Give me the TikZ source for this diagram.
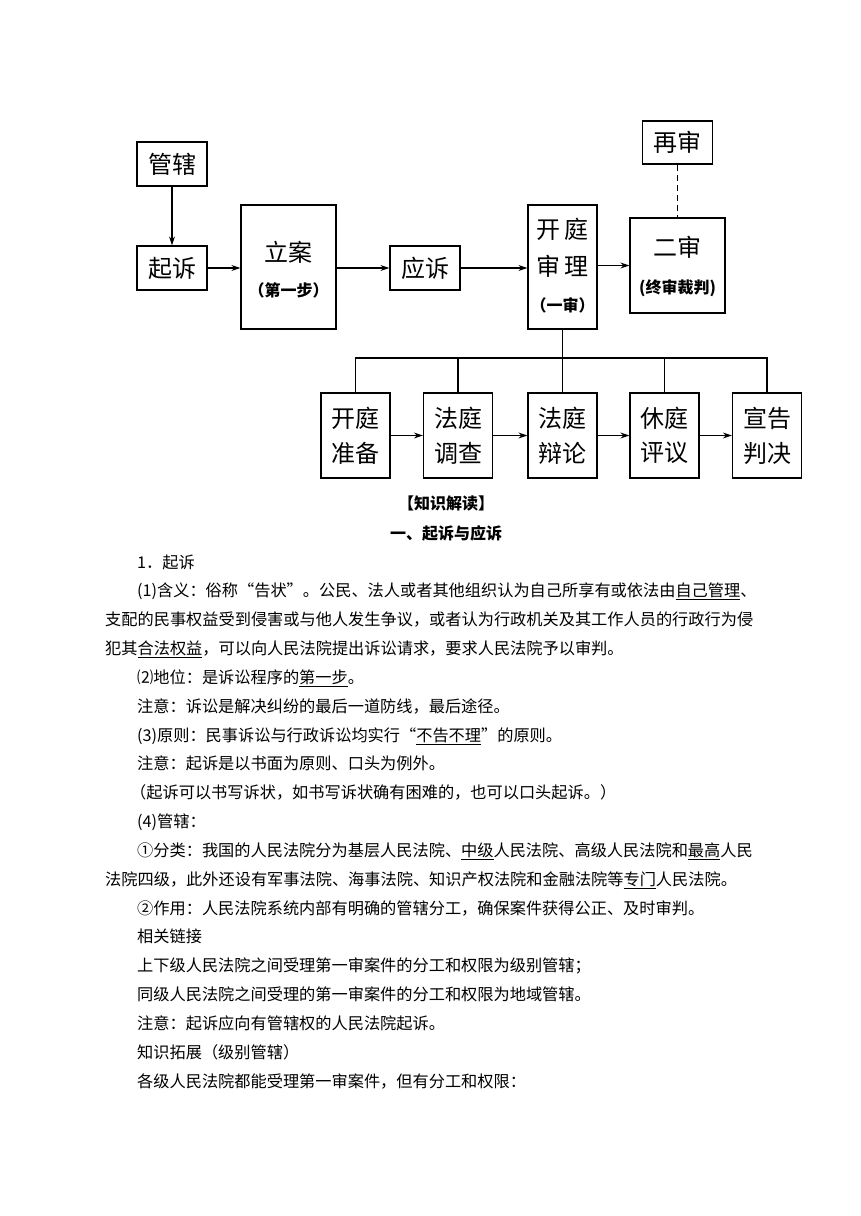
\documentclass[tikz,border=0pt]{standalone}
\usepackage{fontspec}
\setmainfont{Noto Sans CJK SC}
\usetikzlibrary{arrows.meta}
\tikzset{
  x=1pt, y=-1pt,
  box/.style={draw, line width=1.2pt, inner sep=0pt},
  lbl/.style={inner sep=0pt, font=\fontsize{24}{26}\selectfont},
  sub/.style={inner sep=0pt, font=\bfseries\fontsize{16}{18}\selectfont},
  arr/.style={line width=1.1pt, -{Stealth[length=9pt,width=6pt]}},
  ln/.style={line width=1.1pt},
  body/.style={anchor=west, inner sep=0pt, font=\fontsize{16.2}{18}\selectfont, text height=14.2pt, text depth=1.9pt},
  head/.style={inner sep=0pt, font=\bfseries\fontsize{16}{18}\selectfont}
}
\begin{document}
\begin{tikzpicture}
\useasboundingbox (0,0) rectangle (860,1216);
% ---- top row boxes
\node[box, minimum width=70, minimum height=44] (gx) at (172,164) {};
\node[lbl] (gxt) at (gx) {管辖};
\node[box, minimum width=70, minimum height=44] (qs) at (172,268) {};
\node[lbl] (qst) at (qs) {起诉};
\node[box, minimum width=95, minimum height=124] (la) at (288.5,267) {};
\node[lbl] (lat) at (288.5,252) {立案};
\node[sub] (las) at (288.5,290) {（第一步）};
\node[box, minimum width=70, minimum height=44] (ys) at (425,268) {};
\node[lbl] (yst) at (ys) {应诉};
\node[box, minimum width=69, minimum height=124] (kt) at (562.5,267) {};
\node[lbl] (ktt1) at (562.5,229) {开\,庭};
\node[lbl] (ktt2) at (562.5,266) {审\,理};
\node[sub] (kts) at (562.5,305) {（一审）};
\node[box, minimum width=95, minimum height=95] (es) at (677.5,265.5) {};
\node[lbl] (est) at (677.5,247) {二审};
\node[sub] (ess) at (677.5,288) {(终审裁判)};
\node[box, minimum width=70, minimum height=43] (zs) at (677.5,142.5) {};
\node[lbl] (zst) at (zs) {再审};
% ---- bottom row boxes
\foreach \n/\cx/\a/\b in {b1/355.5/开庭/准备, b2/458/法庭/调查, b3/562.5/法庭/辩论, b4/664.5/休庭/评议, b5/767/宣告/判决}{
  \node[box, minimum width=69, minimum height=85] (\n) at (\cx,435.5) {};
  \node[lbl] (\n a) at (\cx,418) {\a};
  \node[lbl] (\n b) at (\cx,453) {\b};
}
% ---- connectors
\draw[arr] (gx.south) -- (qs.north);
\draw[arr] (qs.east) -- (qs.east -| la.west);
\draw[arr] (la.east |- ys.west) -- (ys.west);
\draw[arr] (ys.east) -- (ys.east -| kt.west);
\draw[arr] (kt.east |- es.west) -- (es.west);
\draw[ln, dashed, dash pattern=on 6pt off 4pt] (zs.south) -- (es.north);
\coordinate (busL) at (355.5,358);
\coordinate (busR) at (767,358);
\draw[ln] (kt.south) -- (b3.north);
\draw[ln] (b1.north) -- (busL) -- (busR) -- (b5.north);
\draw[ln] (b2.north) -- (b2.north |- busL);
\draw[ln] (b4.north) -- (b4.north |- busL);
\draw[arr] (b1.east) -- (b2.west);
\draw[arr] (b2.east) -- (b3.west);
\draw[arr] (b3.east) -- (b4.west);
\draw[arr] (b4.east) -- (b5.west);
% ---- text
\node[head] (h1) at (446,503) {【知识解读】};
\node[head] (h2) at (446,533) {一、起诉与应诉};
\node[body] (t0) at (137,562.0) {1．起诉};
\node[body] (t1) at (137,590.8) {(1)含义：俗称“告状”。公民、法人或者其他组织认为自己所享有或依法由\underline{自己管理}、};
\node[body] (t2) at (105,619.7) {支配的民事权益受到侵害或与他人发生争议，或者认为行政机关及其工作人员的行政行为侵};
\node[body] (t3) at (105,648.5) {犯其\underline{合法权益}，可以向人民法院提出诉讼请求，要求人民法院予以审判。};
\node[body] (t4) at (137,677.3) {⑵地位：是诉讼程序的\underline{第一步}。};
\node[body] (t5) at (137,706.2) {注意：诉讼是解决纠纷的最后一道防线，最后途径。};
\node[body] (t6) at (137,735.0) {(3)原则：民事诉讼与行政诉讼均实行“\underline{不告不理}”的原则。};
\node[body] (t7) at (137,763.8) {注意：起诉是以书面为原则、口头为例外。};
\node[body] (t8) at (130,792.7) {（起诉可以书写诉状，如书写诉状确有困难的，也可以口头起诉。）};
\node[body] (t9) at (137,821.5) {(4)管辖：};
\node[body] (t10) at (137,850.3) {①分类：我国的人民法院分为基层人民法院、\underline{中级}人民法院、高级人民法院和\underline{最高}人民};
\node[body] (t11) at (105,879.2) {法院四级，此外还设有军事法院、海事法院、知识产权法院和金融法院等\underline{专门}人民法院。};
\node[body] (t12) at (137,908.0) {②作用：人民法院系统内部有明确的管辖分工，确保案件获得公正、及时审判。};
\node[body] (t13) at (137,936.8) {相关链接};
\node[body] (t14) at (137,965.7) {上下级人民法院之间受理第一审案件的分工和权限为级别管辖；};
\node[body] (t15) at (137,994.5) {同级人民法院之间受理的第一审案件的分工和权限为地域管辖。};
\node[body] (t16) at (137,1023.3) {注意：起诉应向有管辖权的人民法院起诉。};
\node[body] (t17) at (137,1052.2) {知识拓展（级别管辖）};
\node[body] (t18) at (137,1081.0) {各级人民法院都能受理第一审案件，但有分工和权限：};
\end{tikzpicture}
\end{document}
